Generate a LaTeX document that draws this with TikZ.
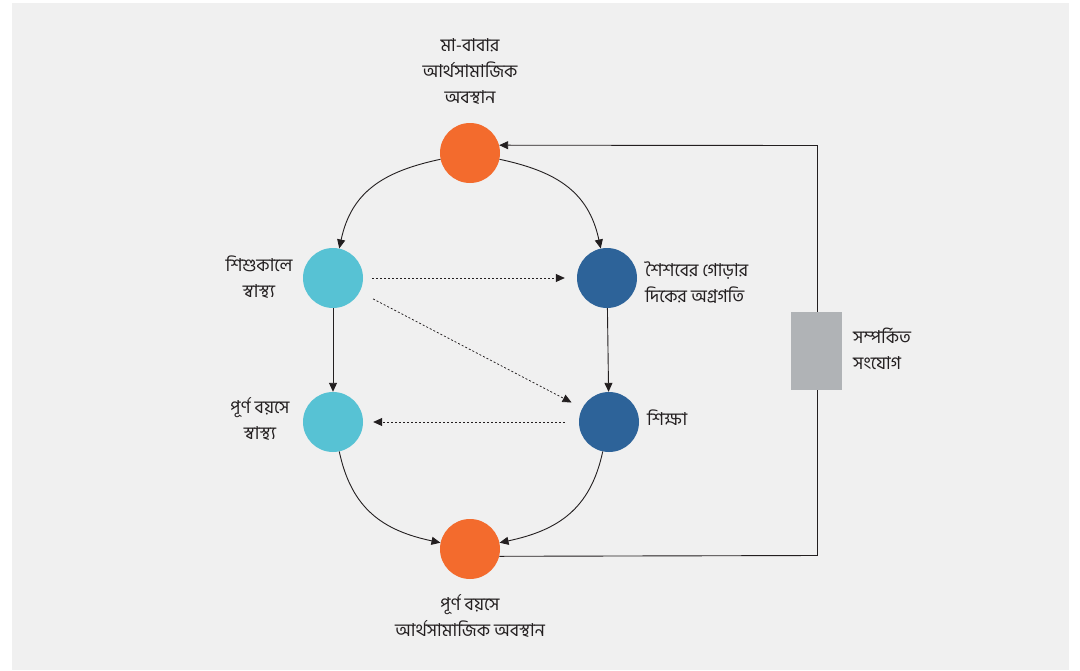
\documentclass[tikz,border=0pt]{standalone}
\usepackage{fontspec}
\newfontfamily\bn[Script=Bengali]{Hind Siliguri}
\usetikzlibrary{arrows.meta}
\definecolor{bgg}{HTML}{F0F0F0}
\definecolor{orng}{HTML}{F36B2D}
\definecolor{lblue}{HTML}{57C2D4}
\definecolor{dblue}{HTML}{2D6399}
\definecolor{boxg}{HTML}{B0B3B6}
\definecolor{txt}{HTML}{231F20}
\tikzset{
  dot/.style={circle, minimum size=60pt, inner sep=0pt, draw=none},
  lbl/.style={font=\bn\fontsize{17.8}{26}\selectfont, text=txt, align=center, inner sep=0pt},
  lblL/.style={lbl, align=left, anchor=west},
  arr/.style={draw=txt, line width=0.9pt, -{Triangle[length=9pt,width=8pt]}},
  darr/.style={arr, line width=0.75pt, dash pattern=on 2pt off 2pt}
}
\begin{document}
\begin{tikzpicture}[x=1pt,y=-1pt]
\useasboundingbox (0,0) rectangle (1080,670);
\fill[white] (0,0) rectangle (1080,670);
\fill[bgg] (12,3) rectangle (1069,670);

\node[dot, fill=orng] (po) at (470,153) {};
\node[dot, fill=orng] (pb) at (470,549) {};
\node[dot, fill=lblue] (tl) at (333,278) {};
\node[dot, fill=lblue] (bl) at (333,422) {};
\node[dot, fill=dblue] (tr) at (607,278) {};
\node[dot, fill=dblue] (br) at (609,422) {};

\node[lbl] (lpo) at (470,72) {মা-বাবার\\আর্থসামাজিক\\অবস্থান};
\node[lbl] (ltl) at (259,277) {শিশুকালে\\স্বাস্থ্য};
\node[lbl] (lbl) at (260,419) {পূর্ণ বয়সে\\স্বাস্থ্য};
\node[lblL] (ltr) at (645,283) {শৈশবের গোড়ার\\দিকের অগ্রগতি};
\node[lblL] (lbr) at (647,418) {শিক্ষা};
\node[lblL] (lfb) at (853,349) {সম্পর্কিত\\সংযোগ};
\node[lbl] (lpb) at (470,616) {পূর্ণ বয়সে\\আর্থসামাজিক অবস্থান};

\draw[arr] (po) to[out=192,in=78, looseness=1.1] (tl);
\draw[arr] (po) to[out=-12,in=102, looseness=1.1] (tr);
\draw[arr] (bl) to[out=-78,in=168, looseness=1.1] (pb);
\draw[arr] (br) to[out=-102,in=12, looseness=1.1] (pb);
\draw[arr] (tl) -- (bl);
\draw[arr] (tr) -- (br);

\draw[darr, shorten <=9pt, shorten >=12pt] (tl) -- (tr);
\draw[darr, shorten <=15pt, shorten >=12pt] (tl) -- (br);
\draw[darr, shorten <=14pt, shorten >=10pt] (br) -- (bl);

\coordinate (c1) at (817.5,555.5);
\coordinate (c2) at (817.5,145.5);
\draw[arr] (pb.-14) -- (c1) -- (c2) -- (po.15);
\node[fill=boxg, minimum width=51pt, minimum height=78pt, inner sep=0pt] (fb) at (816.5,351) {};
\end{tikzpicture}
\end{document}
